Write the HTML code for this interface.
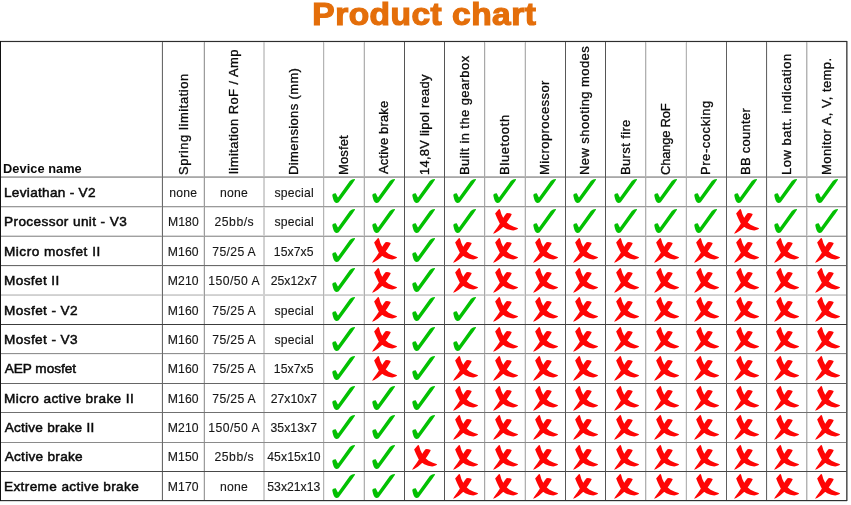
<!DOCTYPE html>
<html lang="en">
<head>
<meta charset="utf-8">
<title>Product chart</title>
<style>
html,body{margin:0;padding:0;background:#fff;}
body{width:851px;height:505px;position:relative;overflow:hidden;font-family:'Liberation Sans', sans-serif;color:#111;}
#grid{position:absolute;left:0;top:0;}
.t{position:absolute;white-space:pre;height:20px;line-height:20px;}
h1{position:absolute;margin:0;white-space:pre;font-weight:bold;color:#e46e0a;-webkit-text-stroke:1.2px #e46e0a;height:40px;line-height:40px;font-size:31.0px;transform-origin:0 0;transform:scaleX(1.08);}
.n{font-size:13.6px;font-weight:normal;-webkit-text-stroke:0.5px #0a0a0a;color:#0a0a0a;}
.d{font-size:12.2px;color:#161616;-webkit-text-stroke:0.12px #161616;}
.h{font-size:12.6px;transform-origin:0 0;transform:rotate(-90deg) scaleX(1.03);color:#0a0a0a;-webkit-text-stroke:0.3px #0a0a0a;}
.dev{font-size:12.8px;font-weight:bold;color:#0a0a0a;}
.i{position:absolute;width:42px;height:31px;overflow:visible;}
</style>
</head>
<body>
<svg id="grid" width="851" height="505" viewBox="0 0 851 505" shape-rendering="crispEdges">
<defs>
<symbol id="ok" viewBox="0 0 684 505"><path shape-rendering="auto" fill="#02c002" d="M135,312 C140,295 165,280 190,283 C200,295 210,325 228,350 L420,82 C445,62 475,48 503,50 C508,58 500,75 470,112 L252,412 C240,430 225,440 205,438 C185,438 168,425 160,405 C150,375 138,340 135,312 Z"/></symbol>
<symbol id="no" viewBox="0 0 684 505"><path shape-rendering="auto" fill="#fe0505" d="M165,122 L228,50 Q245,52 248,70 Q262,140 300,200 Q330,255 400,305 Q470,340 540,362 Q530,385 460,398 Q390,390 330,362 Q280,335 240,285 Q195,200 165,122 Z M350,118 Q380,108 435,130 Q430,160 350,272 Q300,345 230,400 Q170,445 130,452 Q150,415 200,350 Q250,280 295,195 Q320,150 350,118 Z"/></symbol>
</defs>
<g style="mix-blend-mode:darken">
<rect x="0" y="41" width="1" height="460" fill="#111111"/>
<rect x="161" y="41" width="1" height="460" fill="#eeeeee"/>
<rect x="162" y="41" width="1" height="460" fill="#6a6a6a"/>
<rect x="203" y="41" width="1" height="460" fill="#e6e6e6"/>
<rect x="204" y="41" width="1" height="460" fill="#9c9c9c"/>
<rect x="263" y="41" width="1" height="460" fill="#d2d2d2"/>
<rect x="264" y="41" width="1" height="460" fill="#d0d0d0"/>
<rect x="323" y="41" width="1" height="460" fill="#b4b4b4"/>
<rect x="324" y="41" width="1" height="460" fill="#eeeeee"/>
<rect x="363" y="41" width="1" height="460" fill="#e8e8e8"/>
<rect x="364" y="41" width="1" height="460" fill="#b0b0b0"/>
<rect x="404" y="41" width="1" height="460" fill="#555555"/>
<rect x="444" y="41" width="1" height="460" fill="#555555"/>
<rect x="484" y="41" width="1" height="460" fill="#a8a8a8"/>
<rect x="485" y="41" width="1" height="460" fill="#ececec"/>
<rect x="524" y="41" width="1" height="460" fill="#e8e8e8"/>
<rect x="525" y="41" width="1" height="460" fill="#b0b0b0"/>
<rect x="565" y="41" width="1" height="460" fill="#585858"/>
<rect x="605" y="41" width="1" height="460" fill="#555555"/>
<rect x="645" y="41" width="1" height="460" fill="#b0b0b0"/>
<rect x="646" y="41" width="1" height="460" fill="#e6e6e6"/>
<rect x="685" y="41" width="1" height="460" fill="#eeeeee"/>
<rect x="686" y="41" width="1" height="460" fill="#b4b4b4"/>
<rect x="726" y="41" width="1" height="460" fill="#606060"/>
<rect x="766" y="41" width="1" height="460" fill="#666666"/>
<rect x="767" y="41" width="1" height="460" fill="#f2f2f2"/>
<rect x="806" y="41" width="1" height="460" fill="#b4b4b4"/>
<rect x="807" y="41" width="1" height="460" fill="#dcdcdc"/>
<rect x="846" y="41" width="1" height="460" fill="#5a5a5a"/>
<rect x="847" y="41" width="1" height="460" fill="#999999"/>
</g><g style="mix-blend-mode:darken">
<rect x="0" y="40" width="847" height="1" fill="#e8e8e8"/>
<rect x="0" y="41" width="847" height="1" fill="#2e2e2e"/>
<rect x="0" y="42" width="847" height="1" fill="#f0f0f0"/>
<rect x="0" y="176" width="847" height="1" fill="#b8b8b8"/>
<rect x="0" y="177" width="847" height="1" fill="#a8a8a8"/>
<rect x="0" y="206" width="847" height="1" fill="#9a9a9a"/>
<rect x="0" y="207" width="847" height="1" fill="#e0e0e0"/>
<rect x="0" y="235" width="847" height="1" fill="#d8d8d8"/>
<rect x="0" y="236" width="847" height="1" fill="#a0a0a0"/>
<rect x="0" y="265" width="847" height="1" fill="#6a6a6a"/>
<rect x="0" y="266" width="847" height="1" fill="#eeeeee"/>
<rect x="0" y="294" width="847" height="1" fill="#d6d6d6"/>
<rect x="0" y="295" width="847" height="1" fill="#d0d0d0"/>
<rect x="0" y="324" width="847" height="1" fill="#3c3c3c"/>
<rect x="0" y="353" width="847" height="1" fill="#909090"/>
<rect x="0" y="354" width="847" height="1" fill="#f0f0f0"/>
<rect x="0" y="383" width="847" height="1" fill="#666666"/>
<rect x="0" y="412" width="847" height="1" fill="#707070"/>
<rect x="0" y="442" width="847" height="1" fill="#8a8a8a"/>
<rect x="0" y="471" width="847" height="1" fill="#484848"/>
<rect x="0" y="500" width="847" height="1" fill="#303030"/>
<rect x="0" y="501" width="847" height="1" fill="#d8d8d8"/>
</g></svg>
<h1 style="left:312px;top:-5.00px;text-indent:0.32px;letter-spacing:0.453px">Product chart</h1>
<div class="t dev" style="left:3.05px;top:159.00px;letter-spacing:0.038px">Device name</div>
<div class="t h" style="left:174.00px;top:174.81px;letter-spacing:0.545px">Spring limitation</div>
<div class="t h" style="left:224.00px;top:174.37px;letter-spacing:0.429px">limitation RoF / Amp</div>
<div class="t h" style="left:284.00px;top:175.33px;letter-spacing:0.369px">Dimensions (mm)</div>
<div class="t h" style="left:334.00px;top:175.33px;letter-spacing:0.141px">Mosfet</div>
<div class="t h" style="left:374.00px;top:174.30px;letter-spacing:0.156px">Active brake</div>
<div class="t h" style="left:415.00px;top:175.07px;letter-spacing:0.232px">14,8V lipol ready</div>
<div class="t h" style="left:455.00px;top:175.33px;letter-spacing:0.413px">Built in the gearbox</div>
<div class="t h" style="left:495.00px;top:175.33px;letter-spacing:0.652px">Bluetooth</div>
<div class="t h" style="left:535.00px;top:175.33px;letter-spacing:0.425px">Microprocessor</div>
<div class="t h" style="left:575.00px;top:175.33px;letter-spacing:0.433px">New shooting modes</div>
<div class="t h" style="left:616.00px;top:175.33px;letter-spacing:0.368px">Burst fire</div>
<div class="t h" style="left:656.00px;top:174.81px;letter-spacing:-0.200px">Change RoF</div>
<div class="t h" style="left:696.00px;top:175.33px;letter-spacing:0.549px">Pre-cocking</div>
<div class="t h" style="left:736.00px;top:175.33px;letter-spacing:0.274px">BB counter</div>
<div class="t h" style="left:777.00px;top:175.33px;letter-spacing:0.521px">Low batt. indication</div>
<div class="t h" style="left:817.00px;top:175.33px;letter-spacing:0.431px">Monitor A, V, temp.</div>
<div class="t n" style="left:4.02px;top:183.00px;letter-spacing:0.294px">Leviathan - V2</div>
<div class="t d" style="left:169.25px;top:183.00px;letter-spacing:0.258px">none</div>
<div class="t d" style="left:220.00px;top:183.00px;letter-spacing:0.258px">none</div>
<div class="t d" style="left:274.39px;top:183.00px;letter-spacing:0.241px">special</div>
<svg class="i" style="left:324.00px;top:176.00px" viewBox="0 0 684 505"><use href="#ok"/></svg>
<svg class="i" style="left:364.22px;top:176.00px" viewBox="0 0 684 505"><use href="#ok"/></svg>
<svg class="i" style="left:404.43px;top:176.00px" viewBox="0 0 684 505"><use href="#ok"/></svg>
<svg class="i" style="left:444.64px;top:176.00px" viewBox="0 0 684 505"><use href="#ok"/></svg>
<svg class="i" style="left:484.86px;top:176.00px" viewBox="0 0 684 505"><use href="#ok"/></svg>
<svg class="i" style="left:525.08px;top:176.00px" viewBox="0 0 684 505"><use href="#ok"/></svg>
<svg class="i" style="left:565.29px;top:176.00px" viewBox="0 0 684 505"><use href="#ok"/></svg>
<svg class="i" style="left:605.50px;top:176.00px" viewBox="0 0 684 505"><use href="#ok"/></svg>
<svg class="i" style="left:645.72px;top:176.00px" viewBox="0 0 684 505"><use href="#ok"/></svg>
<svg class="i" style="left:685.94px;top:176.00px" viewBox="0 0 684 505"><use href="#ok"/></svg>
<svg class="i" style="left:726.15px;top:176.00px" viewBox="0 0 684 505"><use href="#ok"/></svg>
<svg class="i" style="left:766.37px;top:176.00px" viewBox="0 0 684 505"><use href="#ok"/></svg>
<svg class="i" style="left:806.58px;top:176.00px" viewBox="0 0 684 505"><use href="#ok"/></svg>
<div class="t n" style="left:4.02px;top:212.00px;letter-spacing:0.395px">Processor unit - V3</div>
<div class="t d" style="left:167.89px;top:212.00px;letter-spacing:0.131px">M180</div>
<div class="t d" style="left:214.55px;top:212.00px;letter-spacing:0.500px">25bb/s</div>
<div class="t d" style="left:274.39px;top:212.00px;letter-spacing:0.241px">special</div>
<svg class="i" style="left:324.00px;top:205.50px" viewBox="0 0 684 505"><use href="#ok"/></svg>
<svg class="i" style="left:364.22px;top:205.50px" viewBox="0 0 684 505"><use href="#ok"/></svg>
<svg class="i" style="left:404.43px;top:205.50px" viewBox="0 0 684 505"><use href="#ok"/></svg>
<svg class="i" style="left:444.64px;top:205.50px" viewBox="0 0 684 505"><use href="#ok"/></svg>
<svg class="i" style="left:484.86px;top:205.50px" viewBox="0 0 684 505"><use href="#no"/></svg>
<svg class="i" style="left:525.08px;top:205.50px" viewBox="0 0 684 505"><use href="#ok"/></svg>
<svg class="i" style="left:565.29px;top:205.50px" viewBox="0 0 684 505"><use href="#ok"/></svg>
<svg class="i" style="left:605.50px;top:205.50px" viewBox="0 0 684 505"><use href="#ok"/></svg>
<svg class="i" style="left:645.72px;top:205.50px" viewBox="0 0 684 505"><use href="#ok"/></svg>
<svg class="i" style="left:685.94px;top:205.50px" viewBox="0 0 684 505"><use href="#ok"/></svg>
<svg class="i" style="left:726.15px;top:205.50px" viewBox="0 0 684 505"><use href="#no"/></svg>
<svg class="i" style="left:766.37px;top:205.50px" viewBox="0 0 684 505"><use href="#ok"/></svg>
<svg class="i" style="left:806.58px;top:205.50px" viewBox="0 0 684 505"><use href="#ok"/></svg>
<div class="t n" style="left:4.02px;top:242.00px;letter-spacing:0.503px">Micro mosfet II</div>
<div class="t d" style="left:167.85px;top:242.00px;letter-spacing:0.055px">M160</div>
<div class="t d" style="left:212.31px;top:242.00px;letter-spacing:0.341px">75/25 A</div>
<div class="t d" style="left:273.80px;top:242.00px;letter-spacing:0.067px">15x7x5</div>
<svg class="i" style="left:324.00px;top:235.00px" viewBox="0 0 684 505"><use href="#ok"/></svg>
<svg class="i" style="left:364.22px;top:235.00px" viewBox="0 0 684 505"><use href="#no"/></svg>
<svg class="i" style="left:404.43px;top:235.00px" viewBox="0 0 684 505"><use href="#ok"/></svg>
<svg class="i" style="left:444.64px;top:235.00px" viewBox="0 0 684 505"><use href="#no"/></svg>
<svg class="i" style="left:484.86px;top:235.00px" viewBox="0 0 684 505"><use href="#no"/></svg>
<svg class="i" style="left:525.08px;top:235.00px" viewBox="0 0 684 505"><use href="#no"/></svg>
<svg class="i" style="left:565.29px;top:235.00px" viewBox="0 0 684 505"><use href="#no"/></svg>
<svg class="i" style="left:605.50px;top:235.00px" viewBox="0 0 684 505"><use href="#no"/></svg>
<svg class="i" style="left:645.72px;top:235.00px" viewBox="0 0 684 505"><use href="#no"/></svg>
<svg class="i" style="left:685.94px;top:235.00px" viewBox="0 0 684 505"><use href="#no"/></svg>
<svg class="i" style="left:726.15px;top:235.00px" viewBox="0 0 684 505"><use href="#no"/></svg>
<svg class="i" style="left:766.37px;top:235.00px" viewBox="0 0 684 505"><use href="#no"/></svg>
<svg class="i" style="left:806.58px;top:235.00px" viewBox="0 0 684 505"><use href="#no"/></svg>
<div class="t n" style="left:4.02px;top:271.00px;letter-spacing:0.380px">Mosfet II</div>
<div class="t d" style="left:167.70px;top:271.00px;letter-spacing:0.150px">M210</div>
<div class="t d" style="left:208.17px;top:271.00px;letter-spacing:0.471px">150/50 A</div>
<div class="t d" style="left:270.68px;top:271.00px;letter-spacing:0.050px">25x12x7</div>
<svg class="i" style="left:324.00px;top:264.50px" viewBox="0 0 684 505"><use href="#ok"/></svg>
<svg class="i" style="left:364.22px;top:264.50px" viewBox="0 0 684 505"><use href="#no"/></svg>
<svg class="i" style="left:404.43px;top:264.50px" viewBox="0 0 684 505"><use href="#ok"/></svg>
<svg class="i" style="left:444.64px;top:264.50px" viewBox="0 0 684 505"><use href="#no"/></svg>
<svg class="i" style="left:484.86px;top:264.50px" viewBox="0 0 684 505"><use href="#no"/></svg>
<svg class="i" style="left:525.08px;top:264.50px" viewBox="0 0 684 505"><use href="#no"/></svg>
<svg class="i" style="left:565.29px;top:264.50px" viewBox="0 0 684 505"><use href="#no"/></svg>
<svg class="i" style="left:605.50px;top:264.50px" viewBox="0 0 684 505"><use href="#no"/></svg>
<svg class="i" style="left:645.72px;top:264.50px" viewBox="0 0 684 505"><use href="#no"/></svg>
<svg class="i" style="left:685.94px;top:264.50px" viewBox="0 0 684 505"><use href="#no"/></svg>
<svg class="i" style="left:726.15px;top:264.50px" viewBox="0 0 684 505"><use href="#no"/></svg>
<svg class="i" style="left:766.37px;top:264.50px" viewBox="0 0 684 505"><use href="#no"/></svg>
<svg class="i" style="left:806.58px;top:264.50px" viewBox="0 0 684 505"><use href="#no"/></svg>
<div class="t n" style="left:4.02px;top:301.00px;letter-spacing:0.414px">Mosfet - V2</div>
<div class="t d" style="left:167.85px;top:301.00px;letter-spacing:0.055px">M160</div>
<div class="t d" style="left:212.31px;top:301.00px;letter-spacing:0.341px">75/25 A</div>
<div class="t d" style="left:274.39px;top:301.00px;letter-spacing:0.241px">special</div>
<svg class="i" style="left:324.00px;top:294.00px" viewBox="0 0 684 505"><use href="#ok"/></svg>
<svg class="i" style="left:364.22px;top:294.00px" viewBox="0 0 684 505"><use href="#no"/></svg>
<svg class="i" style="left:404.43px;top:294.00px" viewBox="0 0 684 505"><use href="#ok"/></svg>
<svg class="i" style="left:444.64px;top:294.00px" viewBox="0 0 684 505"><use href="#ok"/></svg>
<svg class="i" style="left:484.86px;top:294.00px" viewBox="0 0 684 505"><use href="#no"/></svg>
<svg class="i" style="left:525.08px;top:294.00px" viewBox="0 0 684 505"><use href="#no"/></svg>
<svg class="i" style="left:565.29px;top:294.00px" viewBox="0 0 684 505"><use href="#no"/></svg>
<svg class="i" style="left:605.50px;top:294.00px" viewBox="0 0 684 505"><use href="#no"/></svg>
<svg class="i" style="left:645.72px;top:294.00px" viewBox="0 0 684 505"><use href="#no"/></svg>
<svg class="i" style="left:685.94px;top:294.00px" viewBox="0 0 684 505"><use href="#no"/></svg>
<svg class="i" style="left:726.15px;top:294.00px" viewBox="0 0 684 505"><use href="#no"/></svg>
<svg class="i" style="left:766.37px;top:294.00px" viewBox="0 0 684 505"><use href="#no"/></svg>
<svg class="i" style="left:806.58px;top:294.00px" viewBox="0 0 684 505"><use href="#no"/></svg>
<div class="t n" style="left:4.02px;top:330.00px;letter-spacing:0.411px">Mosfet - V3</div>
<div class="t d" style="left:167.85px;top:330.00px;letter-spacing:0.055px">M160</div>
<div class="t d" style="left:212.31px;top:330.00px;letter-spacing:0.341px">75/25 A</div>
<div class="t d" style="left:274.39px;top:330.00px;letter-spacing:0.241px">special</div>
<svg class="i" style="left:324.00px;top:323.50px" viewBox="0 0 684 505"><use href="#ok"/></svg>
<svg class="i" style="left:364.22px;top:323.50px" viewBox="0 0 684 505"><use href="#no"/></svg>
<svg class="i" style="left:404.43px;top:323.50px" viewBox="0 0 684 505"><use href="#ok"/></svg>
<svg class="i" style="left:444.64px;top:323.50px" viewBox="0 0 684 505"><use href="#ok"/></svg>
<svg class="i" style="left:484.86px;top:323.50px" viewBox="0 0 684 505"><use href="#no"/></svg>
<svg class="i" style="left:525.08px;top:323.50px" viewBox="0 0 684 505"><use href="#no"/></svg>
<svg class="i" style="left:565.29px;top:323.50px" viewBox="0 0 684 505"><use href="#no"/></svg>
<svg class="i" style="left:605.50px;top:323.50px" viewBox="0 0 684 505"><use href="#no"/></svg>
<svg class="i" style="left:645.72px;top:323.50px" viewBox="0 0 684 505"><use href="#no"/></svg>
<svg class="i" style="left:685.94px;top:323.50px" viewBox="0 0 684 505"><use href="#no"/></svg>
<svg class="i" style="left:726.15px;top:323.50px" viewBox="0 0 684 505"><use href="#no"/></svg>
<svg class="i" style="left:766.37px;top:323.50px" viewBox="0 0 684 505"><use href="#no"/></svg>
<svg class="i" style="left:806.58px;top:323.50px" viewBox="0 0 684 505"><use href="#no"/></svg>
<div class="t n" style="left:4.64px;top:359.00px;letter-spacing:-0.009px">AEP mosfet</div>
<div class="t d" style="left:167.85px;top:359.00px;letter-spacing:0.055px">M160</div>
<div class="t d" style="left:212.31px;top:359.00px;letter-spacing:0.341px">75/25 A</div>
<div class="t d" style="left:273.80px;top:359.00px;letter-spacing:0.067px">15x7x5</div>
<svg class="i" style="left:324.00px;top:353.00px" viewBox="0 0 684 505"><use href="#ok"/></svg>
<svg class="i" style="left:364.22px;top:353.00px" viewBox="0 0 684 505"><use href="#no"/></svg>
<svg class="i" style="left:404.43px;top:353.00px" viewBox="0 0 684 505"><use href="#ok"/></svg>
<svg class="i" style="left:444.64px;top:353.00px" viewBox="0 0 684 505"><use href="#no"/></svg>
<svg class="i" style="left:484.86px;top:353.00px" viewBox="0 0 684 505"><use href="#no"/></svg>
<svg class="i" style="left:525.08px;top:353.00px" viewBox="0 0 684 505"><use href="#no"/></svg>
<svg class="i" style="left:565.29px;top:353.00px" viewBox="0 0 684 505"><use href="#no"/></svg>
<svg class="i" style="left:605.50px;top:353.00px" viewBox="0 0 684 505"><use href="#no"/></svg>
<svg class="i" style="left:645.72px;top:353.00px" viewBox="0 0 684 505"><use href="#no"/></svg>
<svg class="i" style="left:685.94px;top:353.00px" viewBox="0 0 684 505"><use href="#no"/></svg>
<svg class="i" style="left:726.15px;top:353.00px" viewBox="0 0 684 505"><use href="#no"/></svg>
<svg class="i" style="left:766.37px;top:353.00px" viewBox="0 0 684 505"><use href="#no"/></svg>
<svg class="i" style="left:806.58px;top:353.00px" viewBox="0 0 684 505"><use href="#no"/></svg>
<div class="t n" style="left:4.02px;top:389.00px;letter-spacing:0.403px">Micro active brake II</div>
<div class="t d" style="left:167.85px;top:389.00px;letter-spacing:0.055px">M160</div>
<div class="t d" style="left:212.31px;top:389.00px;letter-spacing:0.341px">75/25 A</div>
<div class="t d" style="left:270.68px;top:389.00px;letter-spacing:0.050px">27x10x7</div>
<svg class="i" style="left:324.00px;top:382.50px" viewBox="0 0 684 505"><use href="#ok"/></svg>
<svg class="i" style="left:364.22px;top:382.50px" viewBox="0 0 684 505"><use href="#ok"/></svg>
<svg class="i" style="left:404.43px;top:382.50px" viewBox="0 0 684 505"><use href="#ok"/></svg>
<svg class="i" style="left:444.64px;top:382.50px" viewBox="0 0 684 505"><use href="#no"/></svg>
<svg class="i" style="left:484.86px;top:382.50px" viewBox="0 0 684 505"><use href="#no"/></svg>
<svg class="i" style="left:525.08px;top:382.50px" viewBox="0 0 684 505"><use href="#no"/></svg>
<svg class="i" style="left:565.29px;top:382.50px" viewBox="0 0 684 505"><use href="#no"/></svg>
<svg class="i" style="left:605.50px;top:382.50px" viewBox="0 0 684 505"><use href="#no"/></svg>
<svg class="i" style="left:645.72px;top:382.50px" viewBox="0 0 684 505"><use href="#no"/></svg>
<svg class="i" style="left:685.94px;top:382.50px" viewBox="0 0 684 505"><use href="#no"/></svg>
<svg class="i" style="left:726.15px;top:382.50px" viewBox="0 0 684 505"><use href="#no"/></svg>
<svg class="i" style="left:766.37px;top:382.50px" viewBox="0 0 684 505"><use href="#no"/></svg>
<svg class="i" style="left:806.58px;top:382.50px" viewBox="0 0 684 505"><use href="#no"/></svg>
<div class="t n" style="left:4.64px;top:418.00px;letter-spacing:0.245px">Active brake II</div>
<div class="t d" style="left:167.70px;top:418.00px;letter-spacing:0.150px">M210</div>
<div class="t d" style="left:208.17px;top:418.00px;letter-spacing:0.471px">150/50 A</div>
<div class="t d" style="left:270.38px;top:418.00px;letter-spacing:0.102px">35x13x7</div>
<svg class="i" style="left:324.00px;top:412.00px" viewBox="0 0 684 505"><use href="#ok"/></svg>
<svg class="i" style="left:364.22px;top:412.00px" viewBox="0 0 684 505"><use href="#ok"/></svg>
<svg class="i" style="left:404.43px;top:412.00px" viewBox="0 0 684 505"><use href="#ok"/></svg>
<svg class="i" style="left:444.64px;top:412.00px" viewBox="0 0 684 505"><use href="#no"/></svg>
<svg class="i" style="left:484.86px;top:412.00px" viewBox="0 0 684 505"><use href="#no"/></svg>
<svg class="i" style="left:525.08px;top:412.00px" viewBox="0 0 684 505"><use href="#no"/></svg>
<svg class="i" style="left:565.29px;top:412.00px" viewBox="0 0 684 505"><use href="#no"/></svg>
<svg class="i" style="left:605.50px;top:412.00px" viewBox="0 0 684 505"><use href="#no"/></svg>
<svg class="i" style="left:645.72px;top:412.00px" viewBox="0 0 684 505"><use href="#no"/></svg>
<svg class="i" style="left:685.94px;top:412.00px" viewBox="0 0 684 505"><use href="#no"/></svg>
<svg class="i" style="left:726.15px;top:412.00px" viewBox="0 0 684 505"><use href="#no"/></svg>
<svg class="i" style="left:766.37px;top:412.00px" viewBox="0 0 684 505"><use href="#no"/></svg>
<svg class="i" style="left:806.58px;top:412.00px" viewBox="0 0 684 505"><use href="#no"/></svg>
<div class="t n" style="left:4.64px;top:447.00px;letter-spacing:0.294px">Active brake</div>
<div class="t d" style="left:167.85px;top:447.00px;letter-spacing:0.055px">M150</div>
<div class="t d" style="left:214.55px;top:447.00px;letter-spacing:0.500px">25bb/s</div>
<div class="t d" style="left:267.25px;top:447.00px;letter-spacing:0.077px">45x15x10</div>
<svg class="i" style="left:324.00px;top:441.50px" viewBox="0 0 684 505"><use href="#ok"/></svg>
<svg class="i" style="left:364.22px;top:441.50px" viewBox="0 0 684 505"><use href="#ok"/></svg>
<svg class="i" style="left:404.43px;top:441.50px" viewBox="0 0 684 505"><use href="#no"/></svg>
<svg class="i" style="left:444.64px;top:441.50px" viewBox="0 0 684 505"><use href="#no"/></svg>
<svg class="i" style="left:484.86px;top:441.50px" viewBox="0 0 684 505"><use href="#no"/></svg>
<svg class="i" style="left:525.08px;top:441.50px" viewBox="0 0 684 505"><use href="#no"/></svg>
<svg class="i" style="left:565.29px;top:441.50px" viewBox="0 0 684 505"><use href="#no"/></svg>
<svg class="i" style="left:605.50px;top:441.50px" viewBox="0 0 684 505"><use href="#no"/></svg>
<svg class="i" style="left:645.72px;top:441.50px" viewBox="0 0 684 505"><use href="#no"/></svg>
<svg class="i" style="left:685.94px;top:441.50px" viewBox="0 0 684 505"><use href="#no"/></svg>
<svg class="i" style="left:726.15px;top:441.50px" viewBox="0 0 684 505"><use href="#no"/></svg>
<svg class="i" style="left:766.37px;top:441.50px" viewBox="0 0 684 505"><use href="#no"/></svg>
<svg class="i" style="left:806.58px;top:441.50px" viewBox="0 0 684 505"><use href="#no"/></svg>
<div class="t n" style="left:4.02px;top:477.00px;letter-spacing:0.372px">Extreme active brake</div>
<div class="t d" style="left:167.85px;top:477.00px;letter-spacing:0.057px">M170</div>
<div class="t d" style="left:220.00px;top:477.00px;letter-spacing:0.258px">none</div>
<div class="t d" style="left:267.31px;top:477.00px;letter-spacing:0.014px">53x21x13</div>
<svg class="i" style="left:324.00px;top:471.00px" viewBox="0 0 684 505"><use href="#ok"/></svg>
<svg class="i" style="left:364.22px;top:471.00px" viewBox="0 0 684 505"><use href="#ok"/></svg>
<svg class="i" style="left:404.43px;top:471.00px" viewBox="0 0 684 505"><use href="#ok"/></svg>
<svg class="i" style="left:444.64px;top:471.00px" viewBox="0 0 684 505"><use href="#no"/></svg>
<svg class="i" style="left:484.86px;top:471.00px" viewBox="0 0 684 505"><use href="#no"/></svg>
<svg class="i" style="left:525.08px;top:471.00px" viewBox="0 0 684 505"><use href="#no"/></svg>
<svg class="i" style="left:565.29px;top:471.00px" viewBox="0 0 684 505"><use href="#no"/></svg>
<svg class="i" style="left:605.50px;top:471.00px" viewBox="0 0 684 505"><use href="#no"/></svg>
<svg class="i" style="left:645.72px;top:471.00px" viewBox="0 0 684 505"><use href="#no"/></svg>
<svg class="i" style="left:685.94px;top:471.00px" viewBox="0 0 684 505"><use href="#no"/></svg>
<svg class="i" style="left:726.15px;top:471.00px" viewBox="0 0 684 505"><use href="#no"/></svg>
<svg class="i" style="left:766.37px;top:471.00px" viewBox="0 0 684 505"><use href="#no"/></svg>
<svg class="i" style="left:806.58px;top:471.00px" viewBox="0 0 684 505"><use href="#no"/></svg>
</body>
</html>
